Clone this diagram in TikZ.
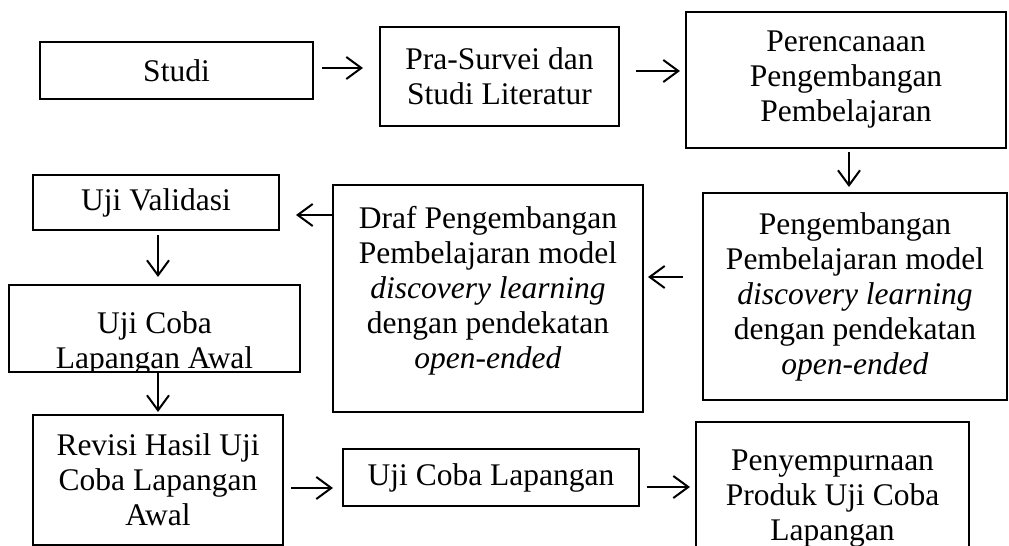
\documentclass[tikz,border=0pt]{standalone}
\usepackage{fontspec}
\setmainfont{Liberation Serif}
\usetikzlibrary{calc, arrows.meta}
\newlength{\pxu}
\setlength{\pxu}{0.4pt}

\begin{document}
\begin{tikzpicture}[x=0.4pt,y=-0.4pt,
  box/.style={draw,line width=0.8pt,inner sep=0pt,outer sep=0pt,align=center,font=\fontsize{12.6}{14}\selectfont},
  txt/.style={inner sep=0pt,align=center,font=\fontsize{12.6}{14}\selectfont},
  arr/.style={line width=0.8pt,-{Straight Barb[length=6pt,width=8.8pt]}}]
\useasboundingbox (0,0) rectangle (1009,546);
\clip (0,0) rectangle (1009,546);

\node[box,minimum width=273\pxu,minimum height=57\pxu] (studi) at (176.5,70.5) {Studi};
\node[box,minimum width=239\pxu,minimum height=99\pxu] (pra) at (499.5,76.5) {Pra-Survei dan\\Studi Literatur};
\node[box,minimum width=320\pxu,minimum height=136\pxu] (perenc) at (846,80) {Perencanaan\\Pengembangan\\Pembelajaran};
\node[box,minimum width=304\pxu,minimum height=207\pxu] (peng) at (855,296.5)
  {Pengembangan\\Pembelajaran model\\\textit{discovery learning}\\dengan pendekatan\\\textit{open-ended}};
\node[box,minimum width=310\pxu,minimum height=227\pxu,text depth=9pt] (draf) at (488,298.5)
  {Draf Pengembangan\\Pembelajaran model\\\textit{discovery learning}\\dengan pendekatan\\\textit{open-ended}};
\node[box,minimum width=246\pxu,minimum height=55\pxu] (valid) at (156,202.5) {Uji Validasi};
\node[box,minimum width=291\pxu,minimum height=87\pxu,
  path picture={\node[txt] at ([yshift=-15\pxu]path picture bounding box.center) {Uji Coba\\Lapangan Awal};}]
  (awal) at (154.5,328.5) {};
\node[box,minimum width=250\pxu,minimum height=130\pxu] (revisi) at (158,480) {Revisi Hasil Uji\\Coba Lapangan\\Awal};
\node[box,minimum width=296\pxu,minimum height=57\pxu] (ujilap) at (491,477.5) {Uji Coba Lapangan};
\node[box,minimum width=273\pxu,minimum height=153\pxu] (sempurna) at (832.5,498.5) {Penyempurnaan\\Produk Uji Coba\\Lapangan};

\draw[arr] ($(studi.east)+(9,-2.5)$) -- ($(studi.east -| pra.west)+(-17,-2.5)$);
\draw[arr] ($(pra.east)+(17,-5.5)$) -- ($(pra.east -| perenc.west)+(-6,-5.5)$);
\draw[arr] ($(perenc.south)+(3,4)$) -- ($(perenc.south |- peng.north)+(3,-6)$);
\draw[arr] ($(peng.west)+(-20,-19.5)$) -- ($(peng.west -| draf.east)+(5,-19.5)$);
\draw[arr] ($(valid.east -| draf.west)+(0,12.5)$) -- ($(valid.east)+(17,12.5)$);
\draw[arr] ($(valid.south)+(2,5)$) -- ($(valid.south |- awal.north)+(2,-8)$);
\draw[arr] ($(awal.south)+(3.5,0)$) -- ($(awal.south |- revisi.north)+(3.5,-3)$);
\draw[arr] ($(revisi.east)+(8,8)$) -- ($(revisi.east -| ujilap.west)+(-10,8)$);
\draw[arr] ($(ujilap.east)+(8,9.5)$) -- ($(ujilap.east -| sempurna.west)+(-6,9.5)$);
\end{tikzpicture}
\end{document}
